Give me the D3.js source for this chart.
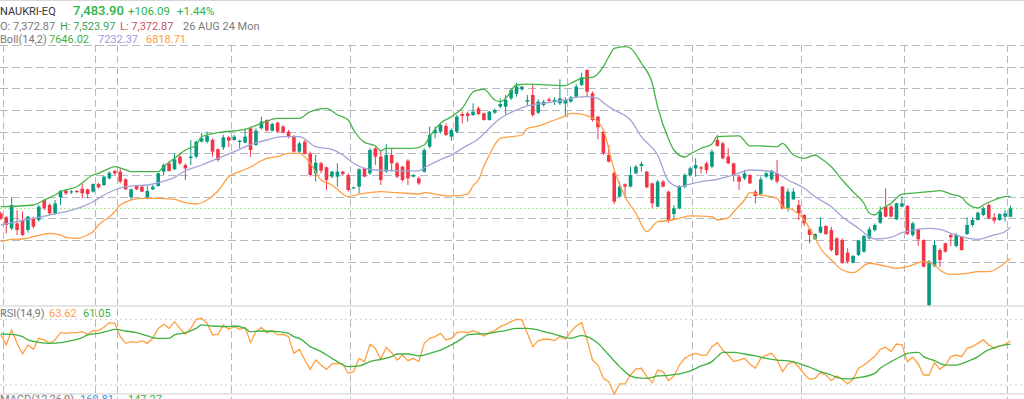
<!DOCTYPE html>
<html>
<head>
<meta charset="utf-8">
<style>
body { margin: 0; background: #fff; }
svg { display: block; font-family: Roboto, "Noto Sans", sans-serif; }
</style>
</head>
<body>
<svg width="1024" height="399"></svg>
<script src="https://cdn.jsdelivr.net/npm/d3@7"></script>
<script>
// daily candles, oldest first (last one = 26 AUG 24)
var open = [7419,7366,7218,7285,7330,7196,7352,7330,7598,7531,
  7419,7634,7723,7701,7719,7750,7741,7710,7812,7799,
  7888,7987,7978,7875,7634,7786,7777,7634,7741,7786,
  7978,8089,8009,8179,8067,8160,8179,8380,8380,8402,
  8277,8304,8438,8402,8375,8366,8558,8335,8558,8670,
  8527,8634,8581,8514,8447,8246,8380,8223,7955,8089,
  8036,7911,7911,7978,7933,7754,7777,8022,7955,8290,
  8179,7978,8201,8089,8045,8125,7911,7888,7978,8313,
  8491,8514,8590,8447,8514,8750,8759,8737,8826,8759,
  8670,8768,8849,8849,8960,9018,9081,8916,9005,8768,
  8871,8947,8911,8893,8893,8916,8983,9139,9340,9027,
  8715,8514,8201,7964,7643,7808,7777,7955,8054,7978,
  7821,7509,7844,7710,7410,7486,7777,7933,8022,8036,
  8089,8045,8402,8357,8179,8089,7911,7888,7933,7710,
  7678,7911,7875,7955,7777,7486,7607,7531,7397,7205,
  7071,7160,7250,7196,7084,7062,6892,6758,6861,6906,
  7084,7196,7294,7509,7509,7339,7509,7518,7129,7205,
  7062,6191,6714,6928,7017,7129,6982,7107,7142,7263,
  7330,7397,7531,7366,7330,7375,7372.87];
var high = [7442,7384,7634,7464,7442,7384,7375,7531,7607,7553,
  7598,7732,7741,7732,7732,7812,7750,7821,7830,7924,
  7978,8000,8022,7888,7754,7799,7786,7786,7799,7964,
  8089,8112,8223,8232,8089,8402,8393,8500,8514,8424,
  8290,8469,8456,8469,8402,8558,8581,8558,8715,8679,
  8634,8648,8603,8536,8469,8380,8402,8246,8201,8112,
  8045,7987,8089,7987,7955,7777,8022,8030,8290,8304,
  8268,8348,8290,8112,8054,8143,7946,7911,8290,8581,
  8581,8625,8625,8558,8737,8782,8782,8893,8849,8768,
  8795,8826,8960,9005,9094,9170,9126,9005,9139,8947,
  8938,8974,8974,9215,8974,8992,9152,9304,9349,9050,
  8724,8527,8335,7978,7844,7821,8045,8067,8112,7987,
  7830,7866,7866,7719,7531,7799,7955,8045,8156,8054,
  8112,8277,8469,8380,8290,8098,7933,8000,7946,7732,
  7911,7978,8000,8134,7786,7754,7754,7598,7410,7218,
  7151,7366,7263,7241,7098,7084,6950,6861,7062,7129,
  7241,7285,7509,7754,7531,7562,7643,7531,7308,7218,
  7071,6794,7062,6950,7026,7151,7151,7116,7366,7366,
  7442,7509,7553,7419,7419,7464,7523.97];
var low = [7330,7151,7196,7129,7116,7160,7218,7308,7464,7397,
  7397,7531,7665,7678,7687,7620,7620,7696,7754,7786,
  7875,7933,7821,7732,7589,7732,7705,7607,7732,7777,
  7933,7978,8000,8067,7866,8067,8156,8371,8357,8179,
  8112,8268,8304,8393,8290,8357,8179,8322,8545,8514,
  8514,8500,8491,8424,8232,8223,8210,7911,7844,7955,
  7732,7888,7777,7933,7710,7746,7687,7902,7933,8067,
  7799,7964,7978,7888,7844,7799,7902,7799,7964,8290,
  8424,8491,8456,8393,8491,8625,8648,8724,8737,8661,
  8661,8750,8826,8737,8938,8983,9063,8871,8715,8750,
  8849,8902,8871,8871,8715,8902,8974,9126,8983,8648,
  8411,8201,8098,7544,7634,7643,7768,7946,7978,7754,
  7486,7500,7768,7294,7330,7473,7754,7911,7911,7955,
  7955,8022,8313,8143,8080,7844,7732,7866,7812,7553,
  7665,7888,7857,7821,7473,7442,7598,7330,7250,7017,
  7062,7151,7129,6906,6848,6740,6749,6749,6848,6892,
  7071,7174,7276,7366,7366,7330,7500,7129,7107,6982,
  6696,6178,6696,6696,6892,6982,6964,6919,7129,7241,
  7321,7384,7339,7285,7321,7308,7372.87];
var close = [7352,7263,7531,7196,7129,7375,7241,7509,7486,7419,
  7553,7719,7687,7714,7705,7687,7678,7812,7768,7911,
  7964,7955,7844,7741,7741,7741,7710,7719,7777,7955,
  8067,7987,8143,8089,8022,8179,8380,8424,8456,8246,
  8134,8438,8393,8447,8393,8447,8268,8527,8648,8527,
  8616,8514,8500,8456,8246,8357,8214,7933,8098,7991,
  7866,7978,7978,7946,7732,7768,8009,7911,8268,8179,
  7866,8201,8089,7911,7866,7888,7933,7821,8268,8469,
  8536,8603,8469,8536,8715,8724,8724,8782,8750,8670,
  8782,8804,8885,8938,9072,9117,9117,8938,8737,8916,
  8916,8925,8938,8960,8938,8974,9117,9242,9050,8670,
  8572,8223,8112,7576,7777,7777,7933,8045,8081,7768,
  7553,7844,7777,7330,7486,7777,7933,8022,8067,8018,
  8000,8246,8322,8156,8089,7933,7844,7955,7821,7652,
  7875,7955,7991,7844,7486,7710,7710,7419,7285,7129,
  7142,7241,7142,6928,6861,6758,6772,6848,7053,7116,
  7205,7263,7442,7375,7375,7553,7553,7142,7285,7071,
  6705,6772,6995,6794,6906,7098,7129,6928,7263,7330,
  7428,7486,7352,7321,7410,7419,7483.90];

// Bollinger(14,2) as [candle index, value]
var bollUpper = [[0,7508],[6,7531],[8,7598],[10,7665],[11,7709],[14,7776],[17,7933],[18,7956],[20,8023],[21,8044],
  [23,8000],[24,7977],[29,7977],[30,8044],[32,8157],[34,8268],[36,8335],[37,8446],[40,8500],[45,8545],[48,8626],
  [51,8693],[55,8693],[57,8781],[60,8827],[62,8740],[64,8670],[65,8536],[67,8370],[69,8322],[70,8259],[71,8291],
  [76,8291],[78,8335],[79,8446],[81,8626],[83,8714],[85,8827],[87,9045],[88,9072],[89,9081],[91,8938],[92,8915],
  [93,8961],[95,9139],[97,9152],[104,9130],[105,9162],[107,9229],[109,9242],[111,9384],[112,9518],[113,9631],
  [115,9652],[116,9631],[118,9430],[120,9162],[121,8848],[123,8415],[124,8268],[126,8174],[127,8214],[129,8291],
  [131,8348],[132,8446],[136,8456],[138,8322],[140,8322],[143,8312],[144,8358],[146,8201],[148,8157],[150,8201],
  [151,8157],[153,8044],[155,7866],[157,7709],[159,7554],[160,7420],[161,7397],[162,7464],[164,7554],[166,7678],
  [169,7696],[171,7709],[173,7723],[175,7678],[177,7634],[178,7554],[180,7491],[181,7531],[183,7598],[185,7642],[186,7646.02]];
var bollMiddle = [[0,7263],[3,7307],[6,7353],[9,7397],[12,7441],[15,7508],[17,7575],[19,7665],[21,7732],[23,7776],
  [25,7790],[27,7799],[29,7830],[32,7900],[34,7990],[37,8067],[40,8157],[43,8245],[46,8340],[49,8402],[52,8446],
  [55,8446],[58,8312],[61,8275],[63,8201],[65,8090],[67,8023],[69,8000],[73,7991],[77,7987],[78,8030],[81,8140],
  [83,8200],[85,8290],[88,8420],[90,8560],[92,8690],[95,8804],[97,8858],[100,8894],[104,8938],[106,8974],[108,8982],
  [110,8961],[111,8900],[113,8804],[116,8670],[118,8446],[121,8201],[123,7853],[125,7776],[127,7812],[129,7843],
  [132,7875],[135,7933],[138,8000],[142,7977],[143,7956],[145,7866],[148,7755],[150,7642],[153,7508],[155,7374],
  [158,7219],[160,7106],[161,7075],[164,7098],[166,7160],[169,7205],[171,7219],[173,7205],[175,7152],[177,7106],
  [180,7071],[182,7106],[183,7129],[185,7173],[186,7232.37]];
var bollLower = [[0,7039],[2,7071],[4,7075],[6,7106],[9,7152],[11,7129],[12,7098],[14,7085],[16,7129],[17,7173],
  [18,7263],[20,7374],[21,7441],[22,7531],[24,7598],[26,7621],[29,7621],[32,7607],[34,7562],[36,7544],[38,7598],
  [40,7719],[42,7910],[44,7977],[46,8040],[49,8157],[51,8178],[53,8224],[55,8224],[57,8090],[59,7866],[61,7799],
  [62,7741],[64,7642],[66,7678],[68,7698],[70,7709],[73,7696],[77,7678],[78,7696],[81,7665],[83,7652],[86,7678],
  [87,7790],[88,7866],[89,8054],[90,8201],[91,8340],[92,8425],[94,8446],[96,8469],[97,8559],[99,8590],[102,8670],
  [104,8724],[105,8760],[107,8750],[108,8724],[110,8647],[111,8536],[113,8000],[115,7642],[117,7420],[119,7173],
  [121,7307],[123,7323],[125,7353],[127,7384],[131,7374],[132,7330],[134,7357],[135,7441],[137,7598],[138,7696],
  [140,7665],[143,7621],[144,7508],[146,7464],[148,7330],[150,7089],[151,6951],[153,6794],[155,6660],[157,6624],
  [160,6750],[162,6727],[165,6683],[167,6704],[170,6771],[172,6727],[173,6660],[175,6602],[178,6616],[180,6637],
  [182,6637],[184,6704],[186,6818.71]];

// RSI(14,9)
var rsi = [68.1,60.5,71.9,61.7,53.6,60.5,57.2,65.5,64.3,61.7,
  64.3,69.8,69.3,69.8,69.8,70.6,68.6,71.4,71.4,73.9,
  77.5,77,66.8,61.7,63,62.2,63.8,61.7,65.5,73.1,
  76.2,73.1,78.2,73.1,68.6,73.1,80,80.8,77,68.1,
  68.6,75.7,72.4,74.4,72.4,73.9,62.2,70.6,73.9,69.8,
  71.4,68.1,68.6,66.8,54.1,57.2,49,41.9,49,45.2,
  41.9,46,46.5,46,38.9,40.2,50.3,47.8,61,57.9,
  49.5,58.7,54.6,49,52.8,48.5,50.3,47.8,61.7,65.5,
  66.8,69.3,64.3,65.5,69.8,70.6,69.8,71.4,69.8,67.3,
  69.8,71.4,74.4,76.2,78.2,80,79.5,69.3,59.2,63.8,
  64.8,64.8,63.8,66.8,64.8,70.6,74.9,77.5,64.3,49,
  45.2,35.1,32.5,23.1,30.8,30.8,37.6,42.2,42.7,36.3,
  31.8,41.4,40.2,33.3,36.9,45.2,50.3,52.8,54.1,52.8,
  52.8,59.2,62.2,56.6,52.8,47.8,49,50.3,46,42.7,
  50.3,52.8,54.1,49,40.2,46,47.8,43.5,38.4,34.3,
  35.1,39.4,37.6,33.3,36.9,34.3,30.8,34.3,42.7,45.2,
  48.5,51.6,57.2,58.7,55.4,61.2,60.5,47.8,51.1,46,
  37.6,37.6,47,41.9,45.2,51.6,52.8,51.6,57.9,59.2,
  61.7,64.3,60.5,57.9,59.7,61,63.62];
var rsiSignal = [[0,68.8],[2,68.6],[4,66.8],[5,64.3],[7,62.5],[9,61.7],[11,62.2],[13,63.8],[15,66],[16,68.1],
  [18,69.3],[20,71.4],[21,72.4],[23,71.1],[25,69.8],[27,67.3],[29,65.5],[31,65.5],[32,68.1],[34,69.8],[36,73.1],
  [37,75.7],[39,74.9],[42,74.4],[43,74.9],[45,73.1],[46,70.6],[48,71.1],[51,70.6],[53,69.3],[54,66.8],[55,65.5],
  [57,59.2],[59,55.4],[61,50.3],[62,47.8],[64,44],[66,44.5],[68,47.8],[70,49.5],[72,51.6],[73,53.6],[75,53.6],
  [77,52.1],[79,54.1],[81,56.6],[83,60.5],[85,65.5],[86,68.1],[88,68.8],[90,69.3],[91,70.1],[93,71.4],[95,73.1],
  [97,73.1],[99,71.9],[100,70.6],[102,68.6],[104,66.3],[105,65.5],[107,67.6],[108,66.8],[110,61.7],[112,52.8],
  [114,44],[116,36.9],[117,35.6],[119,35.1],[120,35.8],[121,36.9],[123,37.4],[125,38.4],[127,40.7],[129,44.5],
  [131,47.8],[132,51.6],[133,54.9],[135,54.9],[137,53.6],[139,52.1],[141,50.3],[143,49],[145,48.3],[147,46.5],
  [149,43.5],[151,40.2],[153,37.6],[154,35.8],[156,34.6],[158,35.6],[161,38.9],[162,42.7],[164,47.8],[166,52.1],
  [167,54.1],[169,54.9],[170,51.6],[172,48.5],[174,45.2],[176,45.2],[178,47.8],[180,51.6],[181,54.6],[183,58.4],[186,61.05]];
var rsiLevels = [80, 30];

// grid
var priceGrid = [9675, 9385, 9094, 8804, 8514, 8223, 7933, 7643, 7352, 7062, 6772];
var timeGrid = [0, 17, 21, 42, 64, 83, 104, 127, 147, 166, 185];

var ltp = 7483.90;

var svg = d3.select("svg");

var x = d3.scaleLinear().domain([0, 186]).range([0.8, 1010.5]);
var y = d3.scaleLinear().domain([7484, 10278]).range([208.5, 0]);
var ry = d3.scaleLinear().domain([30, 80]).range([385, 319.3]);

var upCol = "#089981", downCol = "#f23645";

// top border + panel separators
svg.append("line").attr("x1", 0).attr("x2", 1024).attr("y1", 0.5).attr("y2", 0.5)
  .attr("stroke", "#d6d6d6").attr("stroke-width", 1);
[306, 394].forEach(function(v) {
  svg.append("line").attr("x1", 0).attr("x2", 1024).attr("y1", v).attr("y2", v)
    .attr("stroke", "#dcdcdc").attr("stroke-width", 1.5);
});

// price grid
svg.append("g").selectAll("line").data(priceGrid).enter().append("line")
  .attr("x1", 0).attr("x2", 1024)
  .attr("y1", function(d) { return Math.round(y(d)) + 0.5; })
  .attr("y2", function(d) { return Math.round(y(d)) + 0.5; })
  .attr("stroke", "#b4b9c4").attr("stroke-width", 1).attr("stroke-dasharray", "8,4");

svg.append("g").selectAll("line").data(timeGrid).enter().append("line")
  .attr("x1", function(d) { return Math.round(x(d) + 1.8) + 0.5; })
  .attr("x2", function(d) { return Math.round(x(d) + 1.8) + 0.5; })
  .attr("y1", 45).attr("y2", 399)
  .attr("stroke", "#b4b9c4").attr("stroke-width", 1).attr("stroke-dasharray", "7,4");

// rsi level lines
svg.append("g").selectAll("line").data(rsiLevels).enter().append("line")
  .attr("x1", 0).attr("x2", 1024)
  .attr("y1", function(d) { return ry(d); }).attr("y2", function(d) { return ry(d); })
  .attr("stroke", "#cfcfcf").attr("stroke-width", 1).attr("stroke-dasharray", "2,3");

// last price line
svg.append("line").attr("x1", 0).attr("x2", 1024)
  .attr("y1", y(ltp)).attr("y2", y(ltp))
  .attr("stroke", "#a8ec8c").attr("stroke-width", 1).attr("stroke-dasharray", "2,2");

// candles
var idx = d3.range(close.length);
var candle = svg.append("g").selectAll("g").data(idx).enter().append("g");
candle.append("line")
  .attr("x1", function(i) { return x(i); }).attr("x2", function(i) { return x(i); })
  .attr("y1", function(i) { return y(high[i]); }).attr("y2", function(i) { return y(low[i]); })
  .attr("stroke", function(i) { return close[i] >= open[i] ? upCol : downCol; })
  .attr("stroke-width", 1);
candle.append("rect")
  .attr("x", function(i) { return x(i) - 1.8; })
  .attr("width", 3.6)
  .attr("y", function(i) { return y(Math.max(open[i], close[i])); })
  .attr("height", function(i) { return Math.max(1, Math.abs(y(open[i]) - y(close[i]))); })
  .attr("fill", function(i) { return close[i] >= open[i] ? upCol : downCol; });

// bands
var band = d3.line().x(function(d) { return x(d[0]); }).y(function(d) { return y(d[1]); })
  .curve(d3.curveMonotoneX);
[[bollUpper, "#45b345"], [bollMiddle, "#a3a3d8"], [bollLower, "#ff9f43"]].forEach(function(b) {
  svg.append("path").datum(b[0]).attr("d", band)
    .attr("fill", "none").attr("stroke", b[1]).attr("stroke-width", 1.3);
});

// rsi
svg.append("path").datum(rsi)
  .attr("d", d3.line().x(function(d, i) { return x(i); }).y(function(d) { return ry(d); }))
  .attr("fill", "none").attr("stroke", "#ffa040").attr("stroke-width", 1.3);
svg.append("path").datum(rsiSignal)
  .attr("d", d3.line().x(function(d) { return x(d[0]); }).y(function(d) { return ry(d[1]); }).curve(d3.curveMonotoneX))
  .attr("fill", "none").attr("stroke", "#3fb13f").attr("stroke-width", 1.3);

// legends
function label(items, yy) {
  items.forEach(function(t) {
    svg.append("text").attr("x", t[1]).attr("y", yy)
      .attr("font-size", t[3] || 11).attr("font-weight", t[4] || 400)
      .attr("fill", t[2]).text(t[0]);
  });
}
label([["NAUKRI-EQ", 0, "#333"], ["7,483.90", 73, "#2fb344", 13, 500],
       ["+106.09", 128, "#2fb344", 11.5], ["+1.44%", 177, "#2fb344", 11.5]], 15);
label([["O: 7,372.87", 0, "#7a7a7a"], ["H: 7,523.97", 60, "#3aa35a"],
       ["L: 7,372.87", 120, "#c8555a"], ["26 AUG 24 Mon", 183, "#7a7a7a"]], 29.5);
label([["Boll(14,2)", 0, "#7a7a7a"], ["7646.02", 49, "#3fb13f"],
       ["7232.37", 98, "#9a9ad8"], ["6818.71", 146, "#ff9a3c"]], 43);
label([["RSI(14,9)", 0, "#7a7a7a"], ["63.62", 49, "#ff9a3c"], ["61.05", 83, "#3fb13f"]], 317);
label([["MACD(12,26,9)", 0, "#7a7a7a"], ["160.81", 80, "#3d8fe0"], ["147.27", 128, "#3fb13f"]], 403);
</script>
</body>
</html>
